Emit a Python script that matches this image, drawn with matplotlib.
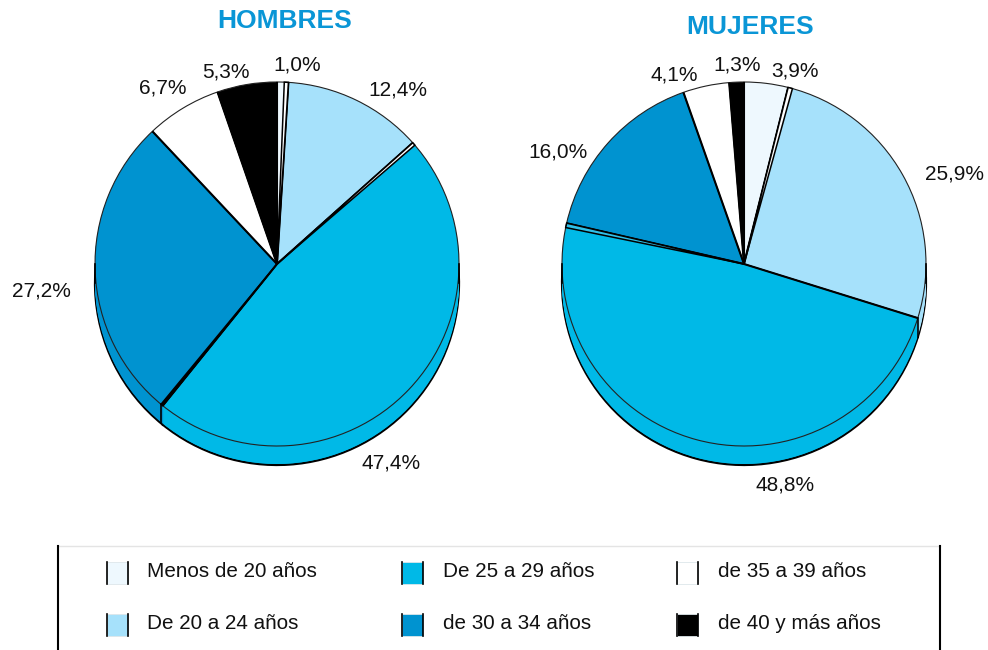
import numpy as np
import matplotlib
matplotlib.use('Agg')
import matplotlib.pyplot as plt
from matplotlib.patches import Wedge, Rectangle

plt.rcParams['font.family'] = ['Liberation Sans', 'DejaVu Sans']

legend_labels = ['Menos de 20 años', 'De 20 a 24 años', 'De 25 a 29 años',
                 'de 30 a 34 años', 'de 35 a 39 años', 'de 40 y más años']
colors = ['#EEF8FE', '#A6E1FB', '#00B9E7', '#0093D0', '#FFFFFF', '#000000']

hombres = [1.0, 12.4, 47.4, 27.2, 6.7, 5.3]
mujeres = [3.9, 25.9, 48.8, 16.0, 4.1, 1.3]

TITLE_COLOR = '#0A96D6'
DEPTH = 19
R = 182


def Y(y):
    # pixel rows of the picture -> axes coords
    return 650 - y


def draw_pie(ax, vals, cx, cy, slivers):
    # side of the cake, stacked copies from bottom to top
    ax.pie(vals, colors=colors, startangle=90, counterclock=False, radius=R,
           center=(cx, Y(cy + DEPTH)), wedgeprops={'edgecolor': 'black', 'linewidth': 1.6})
    for d in range(DEPTH - 1, 0, -1):
        ax.pie(vals, colors=colors, startangle=90, counterclock=False, radius=R,
               center=(cx, Y(cy + d)), wedgeprops={'linewidth': 0})
    # top
    ax.pie(vals, colors=colors, startangle=90, counterclock=False, radius=R,
           center=(cx, Y(cy)), wedgeprops={'edgecolor': '#222222', 'linewidth': 0.8})

    bounds = np.cumsum(vals) * 3.6
    moved = [bounds[s[0]] for s in slivers if s[3] == 'black']
    for b in np.concatenate([[0], bounds[:-1]]):
        rad = np.radians(b)
        x1 = cx + R * np.sin(rad)
        y1 = cy - R * np.cos(rad)
        ax.plot([cx, x1], [Y(cy), Y(y1)], color='black', lw=1.5, zorder=2, solid_capstyle='butt')
        if 90 < b < 270 and b not in moved:
            ax.plot([x1, x1], [Y(y1), Y(y1 + DEPTH)], color='black', lw=1.2, zorder=2)

    # outer tangents of the side
    for x in (cx - R, cx + R):
        ax.plot([x, x], [Y(cy), Y(cy + DEPTH)], color='black', lw=1.2, zorder=2)

    # thin extra slices next to some boundaries
    for idx, start, width, col in slivers:
        a = bounds[idx] + start
        ax.add_patch(Wedge((cx, Y(cy)), R, 90 - a - width, 90 - a, facecolor=col,
                           edgecolor='black', linewidth=1.1, zorder=3))
        if 90 < a + width < 270:
            x1 = cx + R * np.sin(np.radians(a + width))
            y1 = cy - R * np.cos(np.radians(a + width))
            ax.plot([x1, x1], [Y(y1), Y(y1 + DEPTH)], color='black', lw=1.2, zorder=2)


def put_labels(ax, vals, pos):
    for v, (x, y) in zip(vals, pos):
        ax.text(x, Y(y), f'{v:.1f}%'.replace('.', ','), ha='center', va='center',
                fontsize=15, color='#111111')


fig = plt.figure(figsize=(9.88, 6.5), dpi=100)
ax = fig.add_axes([0, 0, 1, 1])

draw_pie(ax, hombres, 277, 264, [(0, -1.3, 1.3, 'white'), (1, 0, 1.0, 'white'), (2, 0, 0.7, 'black')])
draw_pie(ax, mujeres, 744, 264, [(0, 0, 1.4, 'white'), (2, -1.4, 1.4, '#30C0E8')])

put_labels(ax, hombres, [(297, 65), (398, 90), (391, 463), (41, 291), (163, 88), (226, 72)])
put_labels(ax, mujeres, [(795, 71), (954, 174), (785, 485), (558, 152), (674, 75), (737, 65)])

ax.text(285, Y(21), 'HOMBRES', ha='center', va='center', fontsize=19, fontweight='bold', color=TITLE_COLOR)
ax.text(750, Y(27), 'MUJERES', ha='center', va='center', fontsize=19, fontweight='bold', color=TITLE_COLOR)

# legend box, only the sides and a faint top
ax.plot([58, 940], [Y(546), Y(546)], color='#E4E4E4', lw=1)
ax.plot([58, 58], [Y(546), Y(650)], color='black', lw=1.5)
ax.plot([940, 940], [Y(546), Y(650)], color='black', lw=1.5)

col_x = [107, 402, 677]
text_x = [147, 443, 718]
row_y = [562, 614]
for i, lab in enumerate(legend_labels):
    c = i // 2
    r = i % 2
    x = col_x[c]
    y = row_y[r]
    ax.add_patch(Rectangle((x, Y(y + 22)), 21, 22, facecolor=colors[i], edgecolor='#DDE6EA', linewidth=0.6))
    ax.plot([x, x], [Y(y), Y(y + 22)], color='black', lw=1.2)
    ax.plot([x + 21, x + 21], [Y(y), Y(y + 22)], color='black', lw=1.2)
    ax.text(text_x[c], Y(y + 9.5), lab, ha='left', va='center', fontsize=14.9, color='#111111')

ax.set_xlim(0, 988)
ax.set_ylim(0, 650)
ax.axis('off')

plt.savefig('out.png', dpi=100)
